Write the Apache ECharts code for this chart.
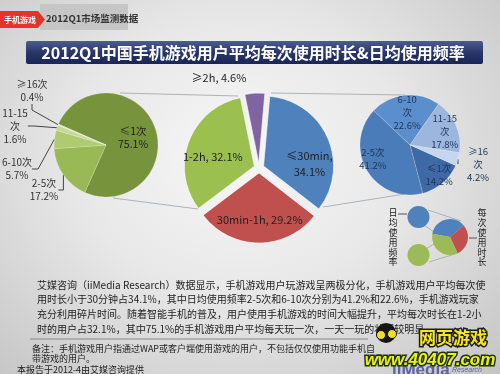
<!DOCTYPE html>
<html><head><meta charset="utf-8">
<script src="https://cdn.jsdelivr.net/npm/echarts@6/dist/echarts.min.js"></script>
<style>
html,body{margin:0;padding:0;}
#c{width:500px;height:374px;background:radial-gradient(ellipse at 48% 42%, #f7f7f7 0%, #e8e8e8 45%, #c4c4c4 100%);}
</style></head>
<body><div id="c"></div>
<script>
// ---- data ----
const timeCats = ['≥2h', '≤30min', '30min-1h', '1-2h'];
const timeVals = [4.6, 34.1, 29.2, 32.1];
const freqCats = ['≤1次', '2-5次', '6-10次', '11-15次', '≥16次'];
const freqOneTwoHourVals = [75.1, 17.2, 5.7, 1.6, 0.4];   // left pie (1-2h users)
const freqShortVals = [14.2, 41.2, 22.6, 17.8, 4.2];        // right pie (≤30min users)
const leftNames = ['≤1次', '2-5次', '6-10次', '11-15\n次', '≥16次'];
const rightNames = ['≤1次', '2-5次', '6-10\n次', '11-15\n次', '≥16\n次'];
const timeNames = ['≥2h, ', '≤30min,\n', '30min-1h, ', '1-2h, '];

const title = '2012Q1中国手机游戏用户平均每次使用时长&日均使用频率';
const paragraph = [
  '艾媒咨询（iiMedia Research）数据显示，手机游戏用户玩游戏呈两极分化，手机游戏用户平均每次使',
  '用时长小于30分钟占34.1%，其中日均使用频率2-5次和6-10次分别为41.2%和22.6%，手机游戏玩家',
  '充分利用碎片时间。随着智能手机的普及，用户使用手机游戏的时间大幅提升，平均每次时长在1-2小',
  '时的用户占32.1%，其中75.1%的手机游戏用户平均每天玩一次，一天一玩的状况较明显。'
];
const notes = ['备注：手机游戏用户指通过WAP或客户端使用游戏的用户，不包括仅仅使用功能手机自', '带游戏的用户。'];
const source = '本报告于2012-4由艾媒咨询提供';

// ---- styles ----
const FF = '"Noto Sans CJK SC", "Noto Sans", sans-serif';
const leftColors = ['#77933c', '#98b955', '#afca70', '#c6da96', '#dce8c3'];
const rightColors = ['#3d69a7', '#4a7cba', '#5b8ecd', '#9db6de', '#c6d6ee'];
const timeColors = ['#8064a2', '#4f81bd', '#c0504d', '#9bc04f'];

const chart = echarts.init(document.getElementById('c'), null, {renderer: 'canvas'});

function T(x, y, text, font, fill, align, valign, extra) {
  return {type: 'text', x: x, y: y, silent: true,
    style: Object.assign({text: text, font: font, fill: fill,
      align: align || 'left', textAlign: align || 'left',
      verticalAlign: valign || 'middle', textVerticalAlign: valign || 'middle'}, extra || {})};
}
function L(x1, y1, x2, y2, c, w) {
  return {type: 'line', silent: true, shape: {x1: x1, y1: y1, x2: x2, y2: y2}, style: {stroke: c || '#a9b3bb', lineWidth: w || 1}};
}

const leftLabelPos = [null, [44, 190], [17, 169], [15, 126], [32, 91]];
const centerLabelShift = [null, [11, 13], [1, 9], [-6, 4]];
const rightLabelShift = [[11, 9], [-13, 0], [0, -5], [9, -3], null];

const option = {
  animation: false,
  backgroundColor: 'transparent',
  textStyle: {fontFamily: FF},
  series: [
    {
      type: 'pie', center: [106, 145], radius: 52, startAngle: 156.3, clockwise: true,
      silent: true,
      data: freqCats.map((n, i) => ({
        name: n, value: freqOneTwoHourVals[i],
        itemStyle: {color: leftColors[i]},
        label: i === 0 ? {position: 'inside', fontSize: 10.5, color: '#222'} : {position: 'outside'},
        labelLine: {show: i !== 0}
      })),
      itemStyle: {borderColor: 'rgba(255,255,255,0.35)', borderWidth: 0.5},
      label: {formatter: p => leftNames[p.dataIndex] + '\n' + p.value + '%', fontSize: 10, lineHeight: 13, color: '#333', fontFamily: FF, overflow: 'none'},
      labelLine: {length: 6, length2: 6, lineStyle: {color: '#444', width: 1}},
      labelLayout: function (p) {
        const pos = leftLabelPos[p.dataIndex];
        if (!pos) return {dy: 3};
        return {x: pos[0], y: pos[1], align: 'center', verticalAlign: 'middle'};
      }
    },
    {
      type: 'pie', center: [259, 168], radius: 70, startAngle: 101.5, clockwise: true,
      selectedMode: 'multiple', selectedOffset: 5, silent: true,
      data: timeCats.map((n, i) => ({
        name: n, value: timeVals[i], selected: true,
        itemStyle: {color: timeColors[i]},
        label: i === 0 ? {position: 'outside'} : {position: 'inside'},
        labelLine: {show: false}
      })),
      itemStyle: {borderColor: 'rgba(255,255,255,0.6)', borderWidth: 1},
      label: {formatter: p => timeNames[p.dataIndex] + p.value + '%', fontSize: 11, lineHeight: 16, color: '#222', fontFamily: FF, overflow: 'none'},
      labelLayout: function (p) {
        if (p.dataIndex === 0) return {x: 257, y: 73, align: 'center', verticalAlign: 'middle'};
        const s = centerLabelShift[p.dataIndex];
        return {dx: s[0], dy: s[1]};
      }
    },
    {
      type: 'pie', center: [410, 145], radius: 50, startAngle: 335.9, clockwise: true,
      silent: true,
      data: freqCats.map((n, i) => ({
        name: n, value: freqShortVals[i],
        itemStyle: {color: rightColors[i]},
        label: i === 4 ? {position: 'outside', overflow: 'none', width: 40} : {position: 'inside'},
        labelLine: {show: i === 4}
      })),
      itemStyle: {borderColor: 'rgba(255,255,255,0.35)', borderWidth: 0.5},
      label: {formatter: p => rightNames[p.dataIndex] + '\n' + p.value + '%', fontSize: 9.5, lineHeight: 13, color: '#1f3556', fontFamily: FF, overflow: 'none'},
      labelLine: {length: 4, length2: 4, lineStyle: {color: '#444', width: 1}},
      labelLayout: function (p) {
        if (p.dataIndex === 4) return {x: 478, y: 164, align: 'center', verticalAlign: 'middle', width: 40};
        const s = rightLabelShift[p.dataIndex];
        return {dx: s[0], dy: s[1]};
      }
    }
  ],
  graphic: [
    // header tag
    {type: 'rect', silent: true, shape: {x: 40, y: 4, width: 88, height: 26}, style: {fill: '#c6c6c6'}},
    {type: 'polygon', silent: true, shape: {points: [[0, 11], [38, 11], [45, 19.5], [38, 28], [0, 28]]}, style: {fill: '#e5332a'}},
    T(20, 19.5, '手机游戏', 'bold 8px ' + FF, '#fff', 'center'),
    T(46, 18, '2012Q1市场监测数据', 'bold 9.5px ' + FF, '#333'),
    // title bar
    {type: 'rect', silent: true, shape: {x: 26, y: 41, width: 457, height: 23, r: 2},
      style: {fill: {type: 'linear', x: 0, y: 0, x2: 0, y2: 1, colorStops: [{offset: 0, color: '#4d5d8e'}, {offset: 0.5, color: '#28366a'}, {offset: 1, color: '#1a2555'}]}}},
    T(253, 53, title, 'bold 16px ' + FF, '#fff', 'center'),
    // connectors
    L(120, 93, 238, 96), L(113, 198, 198, 209),
    L(271, 93, 405, 95), L(323, 207, 405, 194),
    // legend glyph
    L(428, 210, 461, 221), L(424, 225, 434, 232),
    L(426, 249, 434, 244), L(429, 262, 458, 253),
    {type: 'circle', silent: true, shape: {cx: 418.5, cy: 217, r: 11}, style: {fill: '#4f81bd'}},
    {type: 'circle', silent: true, shape: {cx: 418.5, cy: 255, r: 11}, style: {fill: '#9bbb59'}},
    {type: 'sector', silent: true, shape: {cx: 450, cy: 237, r: 18, r0: 0, startAngle: -170 * Math.PI / 180, endAngle: -40 * Math.PI / 180}, style: {fill: '#4f81bd'}},
    {type: 'sector', silent: true, shape: {cx: 450, cy: 237, r: 18, r0: 0, startAngle: -40 * Math.PI / 180, endAngle: 65 * Math.PI / 180}, style: {fill: '#c0504d'}},
    {type: 'sector', silent: true, shape: {cx: 450, cy: 237, r: 18, r0: 0, startAngle: 65 * Math.PI / 180, endAngle: 190 * Math.PI / 180}, style: {fill: '#9bbb59'}},
    L(398, 214, 407, 214, '#555'), L(469, 238, 477, 238, '#555'),
    T(393, 208, '日\n均\n使\n用\n频\n率', '9px ' + FF, '#222', 'center', 'top', {lineHeight: 9.8}),
    T(482, 208, '每\n次\n使\n用\n时\n长', '9px ' + FF, '#222', 'center', 'top', {lineHeight: 9.8}),
    // paragraph
    T(37, 277.5, paragraph.join('\n'), '10px ' + FF, '#222', 'left', 'top', {lineHeight: 14.8}),
    L(30, 339, 368, 339, '#888'),
    T(32, 343, notes.join('\n'), '9px ' + FF, '#222', 'left', 'top', {lineHeight: 10.5}),
    T(17, 365, source, '9px ' + FF, '#222', 'left', 'top'),
    // watermark
    T(392, 370, 'iiMedia', 'bold 17px "Liberation Sans", sans-serif', '#5a64a8', 'left', 'middle'),
    T(452, 370, 'Research', 'italic 7px "Liberation Sans", sans-serif', '#5a64a8', 'left', 'middle'),
    {type: 'circle', silent: true, shape: {cx: 386, cy: 333, r: 10}, style: {fill: '#151515'}},
    {type: 'circle', silent: true, shape: {cx: 381, cy: 335, r: 4.5}, style: {fill: '#f0e020', stroke: '#111', lineWidth: 1}},
    {type: 'circle', silent: true, shape: {cx: 392, cy: 334, r: 4.5}, style: {fill: '#f0e020', stroke: '#111', lineWidth: 1}},
    T(453, 338, '网页游戏', 'bold 17px ' + FF, '#f7e81a', 'center', 'middle', {stroke: '#1c1c1c', lineWidth: 3}),
    T(430, 360, 'www.40407.com', 'bold italic 17px "Liberation Sans", sans-serif', '#e9f21c', 'center', 'middle', {stroke: '#23320a', lineWidth: 3})
  ]
};
chart.setOption(option);
</script>
</body></html>
